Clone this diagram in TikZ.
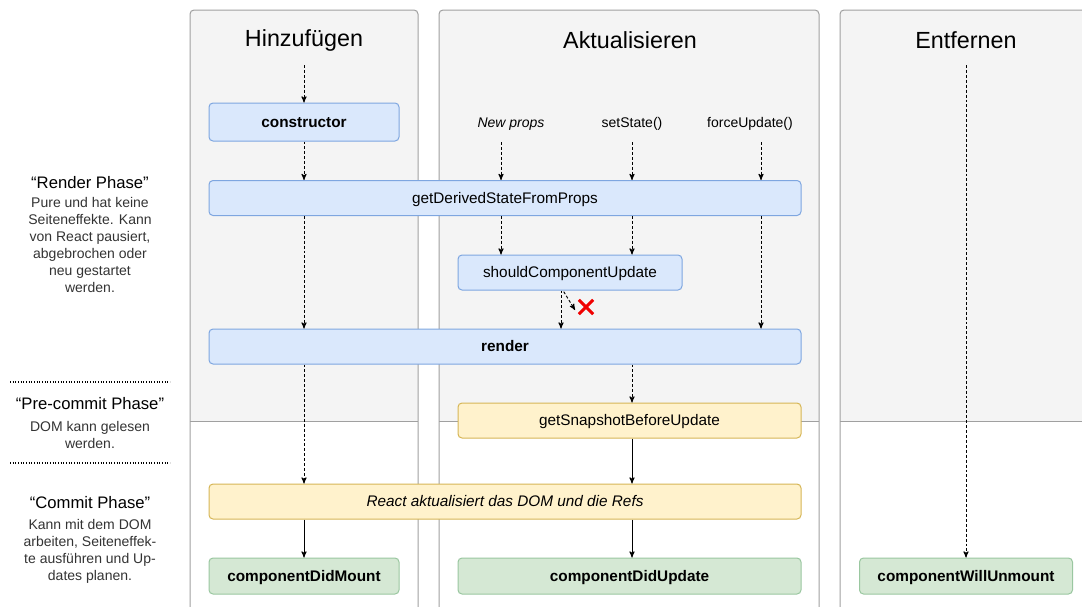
\documentclass[tikz,border=0pt]{standalone}
\usepackage{fontspec}
\setmainfont{Liberation Sans}
\usepackage{tikz}
\usetikzlibrary{arrows,positioning,shapes,shapes.misc}

\definecolor{panelGray}{HTML}{F4F4F4}
\definecolor{panelLine}{HTML}{A0A0A0}
\definecolor{blueFill}{HTML}{DAE8FC}
\definecolor{blueLine}{HTML}{7EA6E0}
\definecolor{yellowFill}{HTML}{FFF2CC}
\definecolor{yellowLine}{HTML}{D6B656}
\definecolor{greenFill}{HTML}{D5E8D4}
\definecolor{greenLine}{HTML}{9AC7A0}
\definecolor{sideText}{HTML}{333333}
\definecolor{crossRed}{HTML}{F00000}

\begin{document}
\begin{tikzpicture}[x=0.75pt, y=-0.75pt, >=stealth', inner sep=0pt, font=\fontsize{11.5}{14}\selectfont]
	\tikzset{lifebox/.style={rounded corners=3pt, line width=0.75pt, minimum height=26.25pt, text height=9pt, text depth=1pt, align=center}}
	\tikzset{renderbox/.style={lifebox, fill=blueFill, draw=blueLine}}
	\tikzset{precommitbox/.style={lifebox, fill=yellowFill, draw=yellowLine}}
	\tikzset{commitbox/.style={lifebox, fill=greenFill, draw=greenLine}}
	\tikzset{flow/.style={->, line width=0.7pt, dash pattern=on 2.2pt off 1.5pt}}
	\tikzset{sync/.style={->, line width=0.7pt}}
	\tikzset{coltitle/.style={font=\fontsize{17.5}{20}\selectfont}}
	\tikzset{trigger/.style={font=\fontsize{10.5}{12}\selectfont, text height=8pt, text depth=2pt}}
	\tikzset{phasehead/.style={font=\fontsize{12.5}{15}\selectfont}}
	\tikzset{phasetext/.style={align=center, text=sideText, font=\fontsize{10.5}{12.8}\selectfont}}
	% Colors: blue = render, yellow = pre-commit, green = commit

	\useasboundingbox (0,0) rectangle (1082,607);
	\clip (0,0) rectangle (1082,607);

	% Columns
	\foreach \l/\r in {190/418, 439/819, 840/1110} {
		\fill[panelGray, rounded corners=3pt] (\l,10) rectangle (\r,440);
		\fill[white] (\l,421) rectangle (\r,640);
		\draw[panelLine, line width=0.75pt, rounded corners=3pt] (\l,640) -- (\l,10) -- (\r,10) -- (\r,640);
		\draw[panelLine, line width=0.75pt] (\l,421) -- (\r,421);
	}

	% Column titles
	\node[coltitle] (addTitle) at (304,40) {Hinzufügen};
	\node[coltitle] (updTitle) at (630,40) {Aktualisieren};
	\node[coltitle] (remTitle) at (966,40) {Entfernen};

	% Triggers
	\node[trigger] (newProps) at (511,123) {\itshape New props};
	\node[trigger] (setState) at (632,123) {setState()};
	\node[trigger] (forceUpdate) at (750,123) {forceUpdate()};
	\coordinate (addStart) at (304,65);
	\coordinate (remStart) at (966,65);
	\coordinate (npStart) at (501,142);
	\coordinate (ssStart) at (632,142);
	\coordinate (fuStart) at (761,142);
	\coordinate (scuOut) at (561,0);
	\coordinate (skipEnd) at (575,310);

	% Lifecycle methods
	\node[renderbox, minimum width=142.5pt, minimum height=28.5pt] (constructor) at (304,122) {\textbf{constructor}};
	\node[renderbox, minimum width=444pt] (gdsfp) at (505,198) {getDerivedStateFromProps};
	\node[renderbox, minimum width=168pt] (scu) at (570,272.5) {shouldComponentUpdate};
	\node[renderbox, minimum width=444pt] (render) at (505,346.5) {\textbf{render}};
	\node[precommitbox, minimum width=257.25pt] (snapshot) at (629.5,420.5) {getSnapshotBeforeUpdate};
	\node[precommitbox, minimum width=444pt] (domUpdate) at (505,501.5) {\itshape React aktualisiert das DOM und die Refs};
	\node[commitbox, minimum width=142.5pt, minimum height=27pt] (didMount) at (304,576) {\textbf{componentDidMount}};
	\node[commitbox, minimum width=257.25pt, minimum height=27pt] (didUpdate) at (629.5,576) {\textbf{componentDidUpdate}};
	\node[commitbox, minimum width=159.75pt, minimum height=27pt] (willUnmount) at (966,576) {\textbf{componentWillUnmount}};
	\node[cross out, draw=crossRed, line width=2.2pt, minimum size=8.5pt] (noUpdate) at (586,307) {};

	% Transitions
	\draw[flow] (addStart) -- (constructor.north);
	\draw[flow] (constructor.south) -- (constructor.south |- gdsfp.north);
	\draw[flow] (gdsfp.south -| constructor) -- (render.north -| constructor);
	\draw[flow] (render.south -| constructor) -- (domUpdate.north -| constructor);
	\draw[sync] (domUpdate.south -| didMount) -- (didMount.north);

	\draw[flow] (npStart) -- (npStart |- gdsfp.north);
	\draw[flow] (ssStart) -- (ssStart |- gdsfp.north);
	\draw[flow] (fuStart) -- (fuStart |- gdsfp.north);
	\draw[flow] (gdsfp.south -| npStart) -- (scu.north -| npStart);
	\draw[flow] (gdsfp.south -| ssStart) -- (scu.north -| ssStart);
	\draw[flow] (gdsfp.south -| fuStart) -- (render.north -| fuStart);
	\draw[flow] (scu.south -| scuOut) -- (render.north -| scuOut);
	\draw[flow, shorten <=1pt] (scu.south -| 563,0) -- (skipEnd);
	\draw[flow] (render.south -| ssStart) -- (snapshot.north -| ssStart);
	\draw[sync] (snapshot.south -| ssStart) -- (domUpdate.north -| ssStart);
	\draw[sync] (domUpdate.south -| ssStart) -- (didUpdate.north -| ssStart);

	\draw[flow] (remStart) -- (willUnmount.north);

	% Phases
	\draw[line width=1.2pt, dash pattern=on 0.8pt off 1.2pt] (10,382) -- (170,382);
	\draw[line width=1.2pt, dash pattern=on 0.8pt off 1.2pt] (10,463) -- (170,463);
	\node[phasehead] (renderHead) at (90,183) {“Render Phase”};
	\node[phasetext] (renderText) at (90,245) {Pure und hat keine\\Seiteneffekte. Kann\\von React pausiert,\\abgebrochen oder\\neu gestartet\\werden.};
	\node[phasehead] (precommitHead) at (90,404) {“Pre-commit Phase”};
	\node[phasetext] (precommitText) at (90,435) {DOM kann gelesen\\werden.};
	\node[phasehead] (commitHead) at (90,503) {“Commit Phase”};
	\node[phasetext] (commitText) at (90,551) {Kann mit dem DOM\\arbeiten, Seiteneffek-\\te ausführen und Up-\\dates planen.};
\end{tikzpicture}
\end{document}
